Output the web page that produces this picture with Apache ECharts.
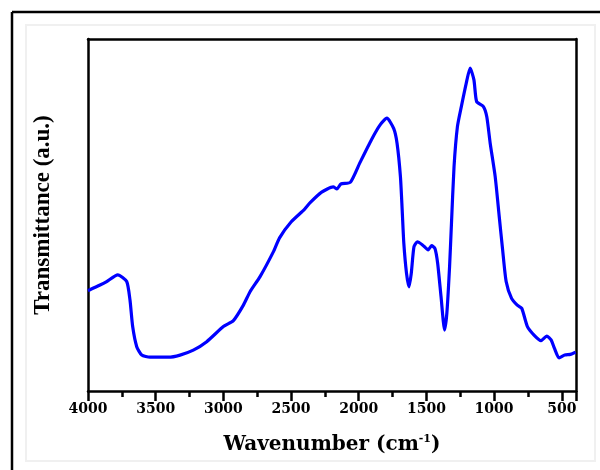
<!DOCTYPE html>
<html lang="en">
<head>
    <meta charset="UTF-8">
    <title>FTIR</title>
    <script src="https://cdn.jsdelivr.net/npm/echarts@6/dist/echarts.min.js"></script>
    <style>
        *{
            margin: 0;
            padding: 0;
        }
        body{
            background: #fff;
        }
        .container{
            width: 600px;
            height: 470px;
        }
    </style>
</head>
<body>
<div class="container"></div>
<script>
    // wavenumber (cm-1)
    let wavenumbers = [4000, 3911, 3862, 3780, 3714, 3690, 3670, 3640, 3603, 3542,
        3407, 3320, 3222, 3123, 3000, 2926, 2852, 2803, 2729, 2630,
        2585, 2500, 2401, 2359, 2274, 2189, 2161, 2132, 2062, 1992,
        1906, 1842, 1792, 1742, 1717, 1692, 1679, 1667, 1647, 1629,
        1612, 1592, 1567, 1529, 1487, 1462, 1437, 1417, 1392, 1366,
        1349, 1329, 1316, 1296, 1271, 1242, 1206, 1177, 1149, 1129,
        1079, 1054, 1029, 992, 962, 937, 911, 871, 829, 796,
        754, 705, 654, 611, 579, 554, 520, 478, 436, 398];
    // transmittance (arbitrary units)
    let transmittance = [28.5, 30.1, 31.1, 33.0, 31.1, 25.9, 18.3, 12.6, 10.2, 9.6,
        9.6, 10.2, 11.6, 14.0, 18.3, 20.0, 24.4, 28.2, 32.5, 39.6,
        43.5, 48.0, 51.6, 53.5, 56.5, 58.0, 57.4, 58.8, 59.3, 64.8,
        71.4, 75.6, 77.5, 74.6, 70.4, 60.9, 51.4, 42.0, 33.4, 29.6,
        33.4, 41.0, 42.4, 41.5, 40.1, 41.3, 40.5, 36.3, 26.8, 17.3,
        22.1, 35.3, 46.7, 63.7, 75.1, 80.8, 87.4, 91.7, 88.4, 82.2,
        80.8, 77.9, 70.4, 60.9, 49.5, 40.1, 31.1, 26.3, 24.4, 23.5,
        18.3, 15.9, 14.3, 15.6, 14.5, 12.1, 9.4, 10.2, 10.4, 11.0];

    let container = document.querySelector('.container');
    let mycharts = echarts.init(container);

    // axis runs high -> low wavenumber: plot against -wavenumber so ticks start at 4000
    let points = wavenumbers.map((w, i) => [-w, transmittance[i]]);
    let serif = 'DejaVu Serif';
    let frame = {show: true, onZero: false, lineStyle: {color: '#000', width: 2.5}};

    let options = {
        backgroundColor: '#fff',
        animation: false,
        graphic: [
            {type: 'rect', shape: {x: 26, y: 25, width: 569, height: 436},
                style: {fill: 'transparent', stroke: '#f0f0f0', lineWidth: 2}, silent: true, z: -10},
            {type: 'line', shape: {x1: 12, y1: 12, x2: 600, y2: 12},
                style: {stroke: '#000', lineWidth: 2.5}, silent: true},
            {type: 'line', shape: {x1: 12, y1: 12, x2: 12, y2: 470},
                style: {stroke: '#000', lineWidth: 2.5}, silent: true}
        ],
        grid: {
            left: 88,
            right: 24,
            top: 39,
            bottom: 79
        },
        xAxis: [{
            type: 'value',
            position: 'bottom',
            min: -4000,
            max: -395,
            interval: 500,
            axisLine: frame,
            axisTick: {show: true, length: 10, lineStyle: {color: '#000', width: 2.5}},
            minorTick: {show: true, splitNumber: 2, length: 6, lineStyle: {color: '#000', width: 2.5}},
            axisLabel: {
                formatter: v => String(-v),
                showMaxLabel: false,
                margin: 11,
                color: '#000',
                fontFamily: serif,
                fontWeight: 'bold',
                fontSize: 14
            },
            splitLine: {show: false},
            name: '{a|Wavenumber (cm}{s|-1}{a|)}',
            nameLocation: 'middle',
            nameGap: 43,
            nameTextStyle: {
                rich: {
                    a: {fontFamily: serif, fontWeight: 'bold', fontSize: 20, color: '#000'},
                    s: {fontFamily: serif, fontWeight: 'bold', fontSize: 11, color: '#000', padding: [0, 0, 10, 0]}
                }
            }
        }, {
            type: 'value',
            position: 'top',
            min: -4000,
            max: -395,
            axisLine: frame,
            axisTick: {show: false},
            axisLabel: {show: false},
            splitLine: {show: false}
        }],
        yAxis: [{
            type: 'value',
            position: 'left',
            min: 0,
            max: 100,
            axisLine: frame,
            axisTick: {show: false},
            axisLabel: {show: false},
            splitLine: {show: false},
            name: 'Transmittance (a.u.)',
            nameLocation: 'middle',
            nameGap: 33,
            nameTextStyle: {
                fontFamily: 'Liberation Serif',
                fontWeight: 'bold',
                fontSize: 23,
                color: '#000'
            }
        }, {
            type: 'value',
            position: 'right',
            min: 0,
            max: 100,
            axisLine: frame,
            axisTick: {show: false},
            axisLabel: {show: false},
            splitLine: {show: false}
        }],
        series: [{
            type: 'line',
            data: points,
            showSymbol: false,
            smooth: 0.2,
            lineStyle: {color: '#0000ff', width: 3.2}
        }]
    };

    mycharts.setOption(options);
</script>
</body>
</html>
